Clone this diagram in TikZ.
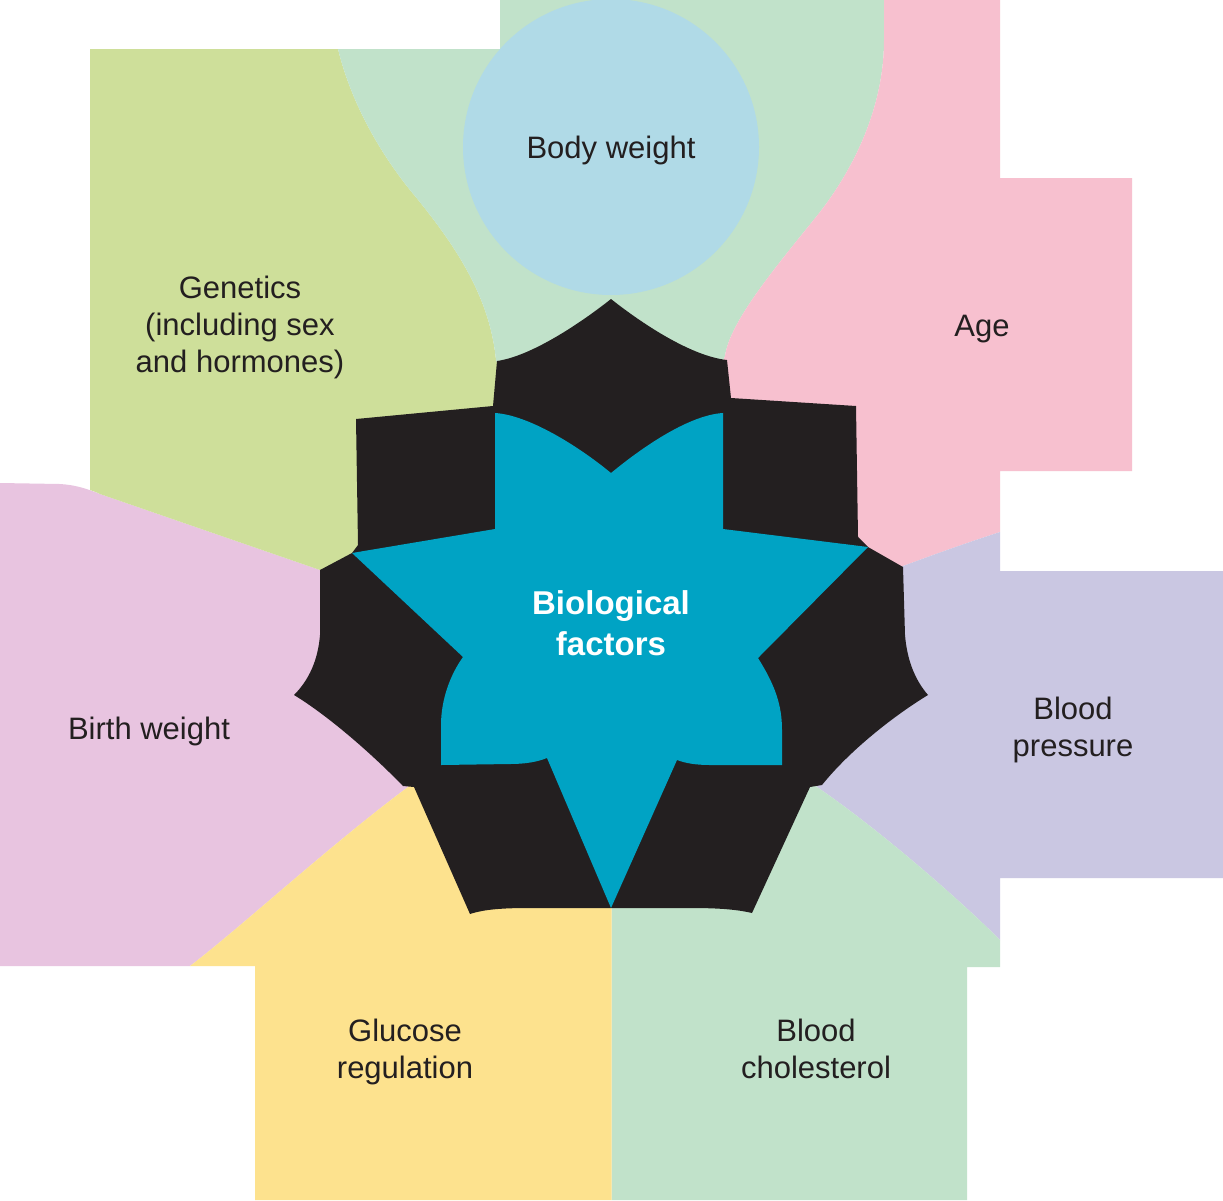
\documentclass[tikz,border=0pt]{standalone}
\usepackage{fontspec}
\setmainfont{Liberation Sans}
\definecolor{cgen}{HTML}{CEDF9A}
\definecolor{cgreen}{HTML}{C1E2CA}
\definecolor{cblue}{HTML}{B0DAE7}
\definecolor{cage}{HTML}{F7C0CF}
\definecolor{clav}{HTML}{CAC7E2}
\definecolor{cyel}{HTML}{FDE28E}
\definecolor{cbirth}{HTML}{E8C4E0}
\definecolor{cblack}{HTML}{231F20}
\definecolor{ccyan}{HTML}{00A3C4}
\definecolor{ctext}{HTML}{231F20}
\begin{document}
\begin{tikzpicture}[x=1pt,y=-1pt,
  lbl/.style={text=ctext, align=center, inner sep=0pt, anchor=base,
    font=\fontsize{31}{37}\selectfont},
  mainlbl/.style={text=white, align=center, inner sep=0pt, anchor=base,
    font=\fontsize{33}{41}\selectfont\bfseries}]
\useasboundingbox (0,0) rectangle (1223,1200);
\clip (0,0) rectangle (1223,1200);
\fill[white] (0,0) rectangle (1223,1200);
\coordinate (C) at (611,640);
% Birth weight region
\fill[cbirth] (0,483) -- (60,484) .. controls (75,485) and (85,488) .. (100,494) -- (320,570) -- (C) -- (408,787) .. controls (330,845) and (240,928) .. (190,966) -- (0,966) -- cycle;
% Genetics region
\fill[cgen] (90,49) -- (338,49) .. controls (348,90) and (370,140) .. (410,190) .. controls (460,250) and (490,300) .. (496,360) -- (C) -- (320,570) -- (100,494) .. controls (96,492) and (93,491) .. (90,490) -- cycle;
% Body weight background
\fill[cgreen] (338,49) -- (500,49) -- (500,0) -- (884,0) -- (884,40) .. controls (884,100) and (860,160) .. (820,212) .. controls (780,262) and (730,320) .. (725,356) -- (C) -- (496,360) .. controls (490,300) and (460,250) .. (410,190) .. controls (370,140) and (348,90) .. (338,49) -- cycle;
% Age region
\fill[cage] (884,0) -- (1000,0) -- (1000,178) -- (1132,178) -- (1132,471) -- (1000,471) -- (1000,532) .. controls (960,545) and (930,556) .. (903,566) -- (C) -- (725,356) .. controls (730,320) and (780,262) .. (820,212) .. controls (860,160) and (884,100) .. (884,40) -- cycle;
% Blood pressure region
\fill[clav] (903,566) .. controls (930,556) and (960,545) .. (1000,532) -- (1000,571) -- (1223,571) -- (1223,878) -- (1000,878) -- (1000,940) .. controls (960,900) and (880,830) .. (817,787) -- (C) -- cycle;
% Blood cholesterol region
\fill[cgreen] (C) -- (817,787) .. controls (880,830) and (960,900) .. (1000,940) -- (1000,967) -- (967,967) -- (967,1200) -- (611.5,1200) -- (611.5,640) -- cycle;
% Glucose region
\fill[cyel] (C) -- (611.5,640) -- (611.5,1200) -- (255,1200) -- (255,966) -- (190,966) .. controls (240,928) and (330,845) .. (408,787) -- cycle;
% Body weight circle
\node[circle, fill=cblue, minimum size=296pt, inner sep=0pt] (bwc) at (611,147) {};
% black star
\fill[cblack] (611,299) .. controls (640,322) and (690,356) .. (727,360) -- (731,398) -- (856,406) -- (858,537) -- (868,547) -- (903,567) -- (905,635) .. controls (907,660) and (915,680) .. (928,695) .. controls (895,715) and (850,750) .. (822,785) -- (810,787) -- (752,913) .. controls (735,909) and (715,908) .. (690,908) -- (530,908) .. controls (505,908) and (485,909) .. (470,914) -- (414,787) -- (403,786) .. controls (370,752) and (327,715) .. (294,695) .. controls (309,680) and (318,660) .. (320,635) -- (320,570) -- (352,553) -- (358,545) -- (356,419) -- (493,406) -- (497,361) .. controls (532,356) and (582,322) .. (611,299) -- cycle;
% cyan star
\fill[ccyan] (611,473) .. controls (645,445) and (690,415) .. (723,413) -- (723,529) -- (868,547) -- (758,658) .. controls (775,685) and (782,705) .. (782,730) -- (782,765) -- (710,765) .. controls (695,765) and (685,763) .. (677,760) -- (611,908) -- (547,758) .. controls (537,762) and (525,764) .. (510,764) -- (441,765) -- (441,725) .. controls (441,700) and (450,675) .. (463,657) -- (352,553) -- (495,529) -- (495,413) .. controls (528,415) and (577,445) .. (611,473) -- cycle;
% labels (base anchor = baseline of the last line)
\node[lbl] (tbw) at (611,158) {Body weight};
\node[lbl] (tgen) at (240,372) {Genetics\\(including sex\\and hormones)};
\node[lbl] (tage) at (982,336) {Age};
\node[lbl] (tbp) at (1073,756) {Blood\\pressure};
\node[lbl] (tbirth) at (149,739) {Birth weight};
\node[lbl] (tglu) at (405,1078) {Glucose\\regulation};
\node[lbl] (tchol) at (816,1078) {Blood\\cholesterol};
\node[mainlbl] (tbio) at (611,655) {Biological\\factors};
\end{tikzpicture}
\end{document}
